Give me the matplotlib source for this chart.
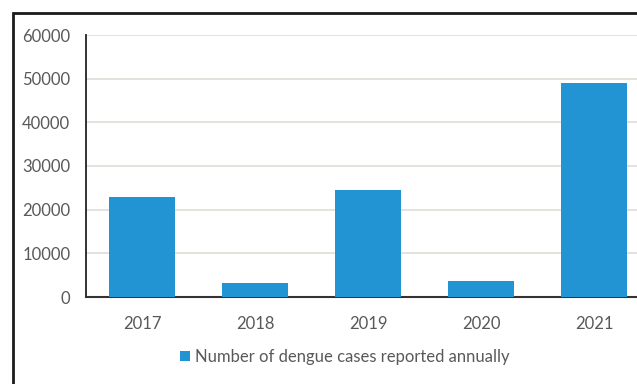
import matplotlib
matplotlib.use("Agg")
import matplotlib.pyplot as plt
from matplotlib.patches import Rectangle

years = ["2017", "2018", "2019", "2020", "2021"]
cases = [23000, 3200, 24600, 3600, 49000]
y_ticks = [0, 10000, 20000, 30000, 40000, 50000, 60000]
series_label = "Number of dengue cases reported annually"

plt.rcParams["font.family"] = ["Lato", "DejaVu Sans"]
text_color = "#595959"

fig = plt.figure(figsize=(6.37, 3.84), dpi=100)
ax = fig.add_axes([85.5 / 637, 1 - 297 / 384, 565 / 637, 262 / 384])

ax.bar(years, cases, width=0.58, color="#2394d3", label=series_label, zorder=3)

ax.set_ylim(0, 60000)
ax.set_xlim(-0.5, len(years) - 0.5)
ax.set_yticks(y_ticks)
ax.set_yticklabels([str(v) for v in y_ticks])
ax.yaxis.grid(True, color="#e3dfdb", linewidth=1.3, zorder=0)
ax.tick_params(axis="both", length=0, labelsize=12, labelcolor=text_color)
ax.tick_params(axis="y", pad=11)
ax.tick_params(axis="x", pad=14)

for side in ["top", "right"]:
    ax.spines[side].set_visible(False)
ax.spines["left"].set_color("#222222")
ax.spines["left"].set_linewidth(1.3)
ax.spines["bottom"].set_color("#333333")
ax.spines["bottom"].set_linewidth(1.5)

fig.legend(loc="center", bbox_to_anchor=(345 / 637, 1 - 357 / 384), frameon=False,
           fontsize=12, labelcolor=text_color, handlelength=0.6, handleheight=0.6,
           handletextpad=0.3)

# outer frame of the figure box (cropped on the right)
fig.patches.append(Rectangle((13 / 637, -0.1), 1.0, 1 - 13 / 384 + 0.1,
                             transform=fig.transFigure, fill=False,
                             edgecolor="#1a1a1a", linewidth=2, clip_on=False))

fig.savefig("out.png", dpi=100)
